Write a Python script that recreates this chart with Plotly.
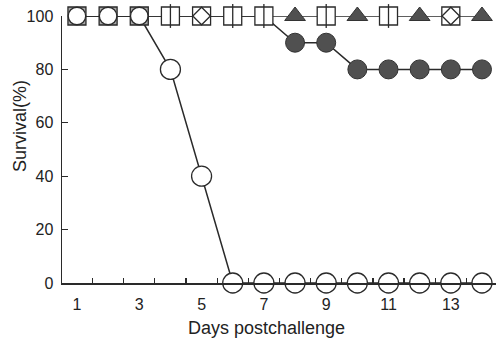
import plotly.graph_objects as go

# ---- data ----
days = list(range(1, 15))
control = [100, 100, 100, 80, 40, 0, 0, 0, 0, 0, 0, 0, 0, 0]
group_filled_circle = [100, 100, 100, 100, 100, 100, 100, 90, 90, 80, 80, 80, 80, 80]
group_triangle = [100] * 14
group_square = [100] * 14
x_tick_labels = ["1", "3", "5", "7", "9", "11", "13"]
x_tick_vals = [1, 3, 5, 7, 9, 11, 13]
y_tick_vals = [0, 20, 40, 60, 80, 100]

# ---- style: which overlapping marker is visible on top row ----
triangle_days = [8, 10, 12, 14]
diamond_days = [5, 13]
split_days = [4, 6, 7, 9, 11]

LINE = "#2a2a2a"
DARK = "#505050"
LW = 1.5

fig = go.Figure()

# lines first
for ys in (group_square, group_filled_circle, control):
    fig.add_trace(go.Scatter(x=days, y=ys, mode="lines",
                             line=dict(color=LINE, width=LW),
                             hoverinfo="skip", cliponaxis=False))

# filled circles (only where separated from the top row)
fx = [d for d, v, s in zip(days, group_filled_circle, group_square) if v != s]
fy = [v for v, s in zip(group_filled_circle, group_square) if v != s]
fig.add_trace(go.Scatter(x=fx, y=fy, mode="markers", cliponaxis=False,
                         marker=dict(symbol="circle", size=19, color=DARK,
                                     line=dict(color="#333", width=1))))

# squares on top row
sq_x = [d for d in days if d not in triangle_days]
sq_y = [group_square[d - 1] for d in sq_x]
circ_overlap = [d for d in sq_x if control[d - 1] == group_square[d - 1]]
sq_fill = ["#a8a8a8" if d in circ_overlap else "white" for d in sq_x]
fig.add_trace(go.Scatter(x=sq_x, y=sq_y, mode="markers", cliponaxis=False,
                         marker=dict(symbol="square", size=18, color=sq_fill,
                                     line=dict(color=LINE, width=1.3))))

# triangles
tr_y = [group_triangle[d - 1] for d in triangle_days]
fig.add_trace(go.Scatter(x=triangle_days, y=tr_y, mode="markers", cliponaxis=False,
                         marker=dict(symbol="triangle-up", size=18, color=DARK,
                                     line=dict(color="#333", width=1))))

# diamonds inside squares
dm_y = [group_square[d - 1] for d in diamond_days]
fig.add_trace(go.Scatter(x=diamond_days, y=dm_y, mode="markers", cliponaxis=False,
                         marker=dict(symbol="diamond-open", size=13.5, color=LINE,
                                     line=dict(color=LINE, width=1.3))))

# split squares
sp_y = [group_square[d - 1] for d in split_days]
fig.add_trace(go.Scatter(x=split_days, y=sp_y, mode="markers", cliponaxis=False,
                         marker=dict(symbol="line-ns", size=17, color=LINE,
                                     line=dict(color=LINE, width=1.3))))

# control open circles
cx_in = [d for d in circ_overlap]
cy_in = [control[d - 1] for d in cx_in]
fig.add_trace(go.Scatter(x=cx_in, y=cy_in, mode="markers", cliponaxis=False,
                         marker=dict(symbol="circle", size=17.5, color="white",
                                     line=dict(color=LINE, width=1.3))))
cx_out = [d for d in days if d not in circ_overlap]
cy_out = [control[d - 1] for d in cx_out]
fig.add_trace(go.Scatter(x=cx_out, y=cy_out, mode="markers", cliponaxis=False,
                         marker=dict(symbol="circle", size=20, color="white",
                                     line=dict(color=LINE, width=1.3))))

FONT = "Liberation Sans, Arial, sans-serif"
fig.update_layout(
    width=496, height=341,
    margin=dict(l=62, r=0, t=16, b=58),
    paper_bgcolor="white", plot_bgcolor="white",
    showlegend=False,
    hovermode=False,
    font=dict(family=FONT, size=15, color="#222"),
    xaxis=dict(range=[0.52, 14.45], showgrid=False, zeroline=False,
               showline=True, linecolor=LINE, linewidth=LW,
               tickvals=x_tick_vals, ticktext=x_tick_labels, ticks="",
               ticklabelstandoff=6, ticklabeloverflow="allow",
               minor=dict(tickvals=[d + 0.5 for d in days[:-1]], ticks="inside",
                          ticklen=5, tickcolor=LINE, tickwidth=1.3, showgrid=False),
               tickfont=dict(size=16)),
    yaxis=dict(range=[0, 100], showgrid=False, zeroline=False,
               showline=True, linecolor=LINE, linewidth=LW,
               tickvals=y_tick_vals, ticks="inside", ticklen=6,
               tickcolor=LINE, tickwidth=1.3, ticklabelstandoff=4,
               ticklabeloverflow="allow",
               tickfont=dict(size=16)),
    annotations=[
        dict(text="Days postchallenge", xref="paper", yref="paper",
             x=0.472, y=-0.1685, xanchor="center", yanchor="middle",
             showarrow=False, font=dict(size=18)),
        dict(text="Survival(%)", xref="paper", yref="paper",
             x=-0.097, y=0.588, xanchor="center", yanchor="middle",
             textangle=-90, showarrow=False, font=dict(size=18)),
    ],
)

# remove the default page margin so the figure fills the window exactly
fig.write_html("out.html",
               config={"displayModeBar": False, "staticPlot": True},
               post_script="document.body.style.margin='0px';document.body.style.overflow='hidden';")
